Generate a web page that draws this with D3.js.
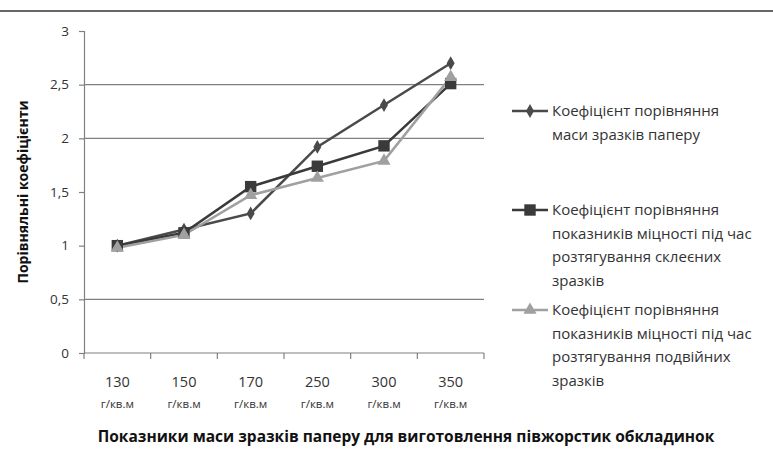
<!DOCTYPE html>
<html><head><meta charset="utf-8">
<script src="https://cdn.jsdelivr.net/npm/d3@7"></script>
<style>body{margin:0;background:#fff}svg{display:block}</style>
</head><body><div id="chart"></div>
<script>
const categories = ["130", "150", "170", "250", "300", "350"];
const unitLabel = "г/кв.м";
const seriesMass = [1.0, 1.15, 1.30, 1.92, 2.31, 2.70];
const seriesGlued = [1.0, 1.12, 1.55, 1.74, 1.93, 2.51];
const seriesDouble = [0.98, 1.10, 1.47, 1.63, 1.79, 2.57];
const yTicks = [0, 0.5, 1, 1.5, 2, 2.5, 3];
const yTickLabels = ["0", "0,5", "1", "1,5", "2", "2,5", "3"];
const gridValues = [0.5, 2, 2.5];
const legendLabels = [
  ["Коефіцієнт порівняння", "маси зразків паперу"],
  ["Коефіцієнт порівняння", "показників міцності під час", "розтягування склеєних", "зразків"],
  ["Коефіцієнт порівняння", "показників міцності під час", "розтягування подвійних", "зразків"]
];
const yTitle = "Порівняльні коефіцієнти";
const xTitle = "Показники маси зразків паперу для виготовлення півжорстик обкладинок";

const W = 773, H = 451;
const plot = {left: 84, right: 484, top: 31, bottom: 353};
const svg = d3.select("#chart").append("svg").attr("width", W).attr("height", H);
const font = "'Open Sans', 'Liberation Sans', sans-serif";

// top rule
svg.append("line").attr("x1", 0).attr("x2", W).attr("y1", 11).attr("y2", 11)
  .attr("stroke", "#666").attr("stroke-width", 2);

const x = d3.scaleBand().domain(categories).range([plot.left, plot.right]).padding(0);
const y = d3.scaleLinear().domain([0, 3]).range([plot.bottom, plot.top]);
const axisColor = "#808080";

// gridlines
svg.append("g").selectAll("line").data(gridValues).join("line")
  .attr("x1", plot.left).attr("x2", plot.right)
  .attr("y1", d => y(d)).attr("y2", d => y(d))
  .attr("stroke", axisColor).attr("stroke-width", 1.2);

// y axis
const yAxis = d3.axisLeft(y).tickValues(yTicks).tickSize(5)
  .tickFormat((d, i) => yTickLabels[i]);
const gy = svg.append("g").attr("transform", `translate(${plot.left},0)`).call(yAxis);
gy.select(".domain").attr("stroke", axisColor).attr("stroke-width", 1.2);
gy.selectAll(".tick line").attr("stroke", axisColor).attr("stroke-width", 1.2);
gy.selectAll(".tick text").attr("x", -15).attr("font-family", font).attr("font-size", 13.5).attr("fill", "#333");

// x axis
svg.append("line").attr("x1", plot.left).attr("x2", plot.right)
  .attr("y1", plot.bottom).attr("y2", plot.bottom).attr("stroke", axisColor).attr("stroke-width", 1.2);
const bounds = categories.map(c => x(c)).concat([plot.right]);
svg.append("g").selectAll("line").data(bounds).join("line")
  .attr("x1", d => d).attr("x2", d => d)
  .attr("y1", plot.bottom).attr("y2", plot.bottom + 6)
  .attr("stroke", axisColor).attr("stroke-width", 1.2);
const xl = svg.append("g").selectAll("text").data(categories).join("text")
  .attr("x", d => x(d) + x.bandwidth() / 2).attr("text-anchor", "middle")
  .attr("font-family", font).attr("fill", "#333");
xl.append("tspan").attr("x", d => x(d) + x.bandwidth() / 2).attr("y", 387).attr("font-size", 14.5).text(d => d);
xl.append("tspan").attr("x", d => x(d) + x.bandwidth() / 2).attr("y", 408).attr("font-size", 11.5).text(unitLabel);

// titles
svg.append("text").attr("transform", `translate(28,192) rotate(-90)`)
  .attr("text-anchor", "middle").attr("font-family", font).attr("font-weight", "bold")
  .attr("font-size", 14).attr("fill", "#111").text(yTitle);
svg.append("text").attr("x", 406).attr("y", 442).attr("text-anchor", "middle")
  .attr("font-family", font).attr("font-weight", "bold").attr("font-size", 15.5).attr("fill", "#111").text(xTitle);

// series
const series = [
  {values: seriesMass, color: "#4a4a4a", marker: "diamond", size: 55},
  {values: seriesGlued, color: "#3a3a3a", marker: "square", size: 130},
  {values: seriesDouble, color: "#a0a0a0", marker: "triangle", size: 75}
];
const symType = {diamond: d3.symbolDiamond, square: d3.symbolSquare, triangle: d3.symbolTriangle};
const line = d3.line().x((d, i) => x(categories[i]) + x.bandwidth() / 2).y(d => y(d));
series.forEach(s => {
  svg.append("path").datum(s.values).attr("d", line).attr("fill", "none")
    .attr("stroke", s.color).attr("stroke-width", 2.5);
});
series.forEach(s => {
  svg.append("g").selectAll("path").data(s.values).join("path")
    .attr("transform", (d, i) => `translate(${x(categories[i]) + x.bandwidth() / 2},${y(d)})`)
    .attr("d", d3.symbol().type(symType[s.marker]).size(s.size)).attr("fill", s.color);
});

// legend
const legendY = [111, 210, 310];
series.forEach((s, k) => {
  const g = svg.append("g").attr("transform", `translate(0,${legendY[k]})`);
  g.append("line").attr("x1", 512).attr("x2", 548).attr("y1", 0).attr("y2", 0)
    .attr("stroke", s.color).attr("stroke-width", 2.5);
  g.append("path").attr("transform", "translate(530,0)")
    .attr("d", d3.symbol().type(symType[s.marker]).size(s.size)).attr("fill", s.color);
  legendLabels[k].forEach((t, j) => {
    g.append("text").attr("x", 552).attr("y", j * 23.5 + 5).attr("font-family", font)
      .attr("font-size", 15).attr("fill", "#333").text(t);
  });
});
</script></body></html>
